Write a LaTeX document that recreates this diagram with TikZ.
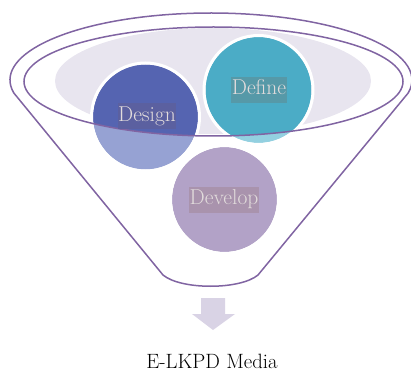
\documentclass[tikz,border=0pt]{standalone}
\usetikzlibrary{calc}
\definecolor{funnel}{HTML}{8064A2}
\definecolor{mouth}{HTML}{E8E5EF}
\definecolor{dsgdark}{HTML}{5564B1}
\definecolor{dsglight}{HTML}{96A2D3}
\definecolor{dfndark}{HTML}{4BACC6}
\definecolor{dfnlight}{HTML}{93D0E0}
\definecolor{dvl}{HTML}{B2A2C7}
\definecolor{dsgbox}{HTML}{5B60A0}
\definecolor{dfnbox}{HTML}{5699A8}
\definecolor{dvlbox}{HTML}{A993AD}
\definecolor{labeltext}{HTML}{E2DCDC}
\definecolor{arrowfill}{HTML}{D9D3E5}
\tikzset{
  funnelline/.style={draw=funnel, line width=1.5pt},
  stagelabel/.style={text=labeltext, font=\fontsize{21.5}{24}\selectfont, inner xsep=0.5pt, inner ysep=3.5pt, text height=14.5pt, text depth=4.5pt},
  ringstyle/.style={draw=white, line width=3pt},
}
\begin{document}
\begin{tikzpicture}[x=1pt,y=-1pt]
\useasboundingbox (0,0) rectangle (411,371);
% funnel outline
\draw[funnelline] (211,80) ++(168.8:201 and 67) arc (168.8:371.2:201 and 67)
  -- (258,275) .. controls (240,290) and (181,290) .. (163,275) -- cycle;
% mouth fill
\fill[mouth] (213,81) ellipse (158 and 53);
% circles
\coordinate (cdsg) at (145.5,117);
\coordinate (cdfn) at (258.5,90);
\coordinate (cdvl) at (224.5,199.5);
\fill[dsglight] (cdsg) circle (52.5);
\fill[dfnlight] (cdfn) circle (53);
\fill[dvl] (cdvl) circle (52.5);
\begin{scope}
  \clip (213.5,81.5) ellipse (189.5 and 54.5);
  \fill[dsgdark] (cdsg) circle (52.5);
  \fill[dfndark] (cdfn) circle (53);
\end{scope}
\draw[ringstyle] (cdsg) circle (54);
\draw[ringstyle] (cdfn) circle (54.5);
\draw[ringstyle] (cdvl) circle (54);
% inner rim
\draw[funnelline] (213.5,81.5) ellipse (189.5 and 54.5);
% labels
\node[stagelabel, fill=dsgbox] (design) at (147,116.5) {Design};
\node[stagelabel, fill=dfnbox] (define) at (259,90) {Define};
\node[stagelabel, fill=dvlbox] (develop) at (224,199.5) {Develop};
% arrow
\fill[arrowfill] (201,298) -- (225,298) -- (225,314) -- (235,314) -- (213,330) -- (192,314) -- (201,314) -- cycle;
% result
\node[anchor=base, font=\fontsize{20.7}{23}\selectfont, inner sep=0pt] (media) at (212,368) {E-LKPD Media};
\end{tikzpicture}
\end{document}
